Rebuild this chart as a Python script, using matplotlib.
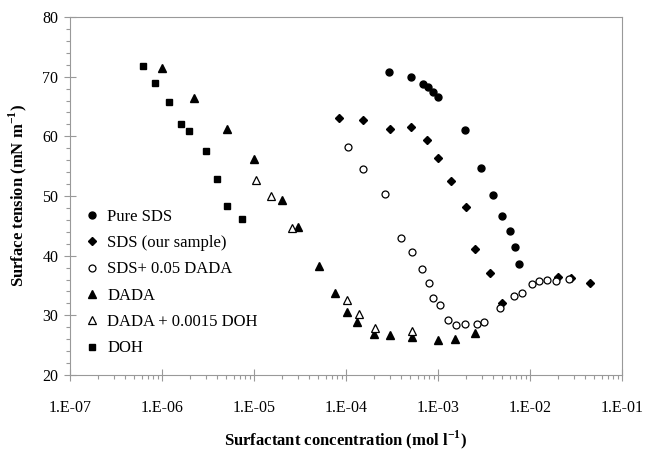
import numpy as np
import matplotlib
matplotlib.use('Agg')
import matplotlib.pyplot as plt
from matplotlib.ticker import FixedLocator, FuncFormatter

plt.rcParams['font.family'] = ['Liberation Serif', 'DejaVu Serif']
plt.rcParams['mathtext.fontset'] = 'custom'
plt.rcParams['mathtext.rm'] = 'Liberation Serif'
plt.rcParams['mathtext.bf'] = 'Liberation Serif:bold'

# data (concentration in mol/l, tension in mN/m)
pure_sds_c = [2.96e-4, 5.05e-4, 6.9e-4, 7.85e-4, 8.8e-4, 1.0e-3, 1.95e-3, 2.93e-3,
              3.96e-3, 5.0e-3, 6.0e-3, 6.9e-3, 7.6e-3]
pure_sds_t = [70.8, 70.0, 68.8, 68.2, 67.4, 66.6, 61.1, 54.7, 50.2, 46.7, 44.1, 41.4, 38.6]

sds_c = [8.45e-5, 1.53e-4, 3.0e-4, 5.1e-4, 7.5e-4, 1.0e-3, 1.4e-3, 2.0e-3, 2.55e-3,
         3.67e-3, 5.0e-3, 2.0e-2, 2.8e-2, 4.49e-2]
sds_t = [63.0, 62.7, 61.2, 61.6, 59.4, 56.4, 52.5, 48.2, 41.1, 37.1, 32.0, 36.4, 36.3, 35.4]

sds_dada_c = [1.06e-4, 1.54e-4, 2.63e-4, 3.99e-4, 5.2e-4, 6.75e-4, 7.9e-4, 8.8e-4, 1.06e-3,
              1.27e-3, 1.56e-3, 1.95e-3, 2.63e-3, 3.14e-3, 4.72e-3, 6.76e-3, 8.25e-3,
              1.05e-2, 1.25e-2, 1.54e-2, 1.9e-2, 2.66e-2]
sds_dada_t = [58.2, 54.6, 50.3, 42.9, 40.6, 37.7, 35.4, 32.9, 31.7, 29.3, 28.3, 28.5, 28.5,
              28.9, 31.3, 33.2, 33.8, 35.3, 35.8, 35.9, 35.8, 36.1]

dada_c = [1.0e-6, 2.24e-6, 5.1e-6, 1.0e-5, 2.0e-5, 3.03e-5, 5.1e-5, 7.6e-5, 1.02e-4,
          1.31e-4, 2.0e-4, 3.0e-4, 5.2e-4, 1.0e-3, 1.52e-3, 2.55e-3]
dada_t = [71.4, 66.5, 61.3, 56.2, 49.3, 44.8, 38.3, 33.7, 30.6, 28.8, 26.9, 26.7, 26.3,
          25.9, 26.0, 27.0]

dada_doh_c = [1.04e-5, 1.53e-5, 2.6e-5, 1.03e-4, 1.4e-4, 2.07e-4, 5.2e-4]
dada_doh_t = [52.7, 50.0, 44.6, 32.5, 30.2, 27.8, 27.3]

doh_c = [6.2e-7, 8.4e-7, 1.19e-6, 1.6e-6, 1.96e-6, 2.98e-6, 4.0e-6, 5.05e-6, 7.46e-6]
doh_t = [71.8, 69.0, 65.8, 62.1, 60.9, 57.5, 52.8, 48.3, 46.1]

fig = plt.figure(figsize=(6.46, 4.5), dpi=100)
ax = fig.add_axes([70/646, 1-375/450, 552/646, 358/450])

ms = 5.0
ax.plot(pure_sds_c, pure_sds_t, 'o', color='black', ms=ms, label='Pure SDS')
ax.plot(sds_c, sds_t, 'D', color='black', ms=ms-0.5, label='SDS (our sample)')
ax.plot(sds_dada_c, sds_dada_t, 'o', mfc='white', mec='black', mew=0.9, ms=ms,
        label='SDS+ 0.05 DADA')
ax.plot(dada_c, dada_t, '^', color='black', ms=ms+1, label='DADA')
ax.plot(dada_doh_c, dada_doh_t, '^', mfc='white', mec='black', mew=0.9, ms=ms+1,
        label='DADA + 0.0015 DOH')
ax.plot(doh_c, doh_t, 's', color='black', ms=ms-0.4, label='DOH')

ax.set_xscale('log')
ax.set_xlim(1e-7, 1e-1)
ax.set_ylim(20, 80)

ax.xaxis.set_major_locator(FixedLocator([10.0**e for e in range(-7, 0)]))
ax.xaxis.set_minor_locator(FixedLocator([m * 10.0**e for e in range(-7, -1) for m in range(2, 10)]))
ax.xaxis.set_major_formatter(FuncFormatter(lambda v, p: '1.E-%02d' % round(-np.log10(v))))
ax.set_yticks(range(20, 81, 10))
ax.set_yticks(range(20, 81, 2), minor=True)

grey = '#999999'
for s in ax.spines.values():
    s.set_color(grey)
    s.set_linewidth(0.8)
ax.tick_params(which='major', direction='inout', length=8.6, width=0.8, color=grey,
               labelsize=11.5, top=False, right=False)
ax.tick_params(which='minor', direction='out', length=2.8, width=0.8, color=grey,
               top=False, right=False)
ax.tick_params(axis='x', which='major', pad=14)
ax.tick_params(axis='y', which='major', pad=4)

ax.set_xlabel(r'Surfactant concentration (mol l$^{\mathbf{-1}}$)', fontsize=12,
              fontweight='bold', labelpad=9)
ax.set_ylabel(r'Surface tension (mN m$^{\mathbf{-1}}$)', fontsize=12,
              fontweight='bold', labelpad=10)

ax.legend(loc='center left', bbox_to_anchor=(0.025, 0.258), frameon=False, fontsize=12,
          numpoints=1, handlelength=1.0, handletextpad=0.4, labelspacing=0.62,
          borderpad=0, borderaxespad=0)

fig.savefig('out.png', dpi=100)
